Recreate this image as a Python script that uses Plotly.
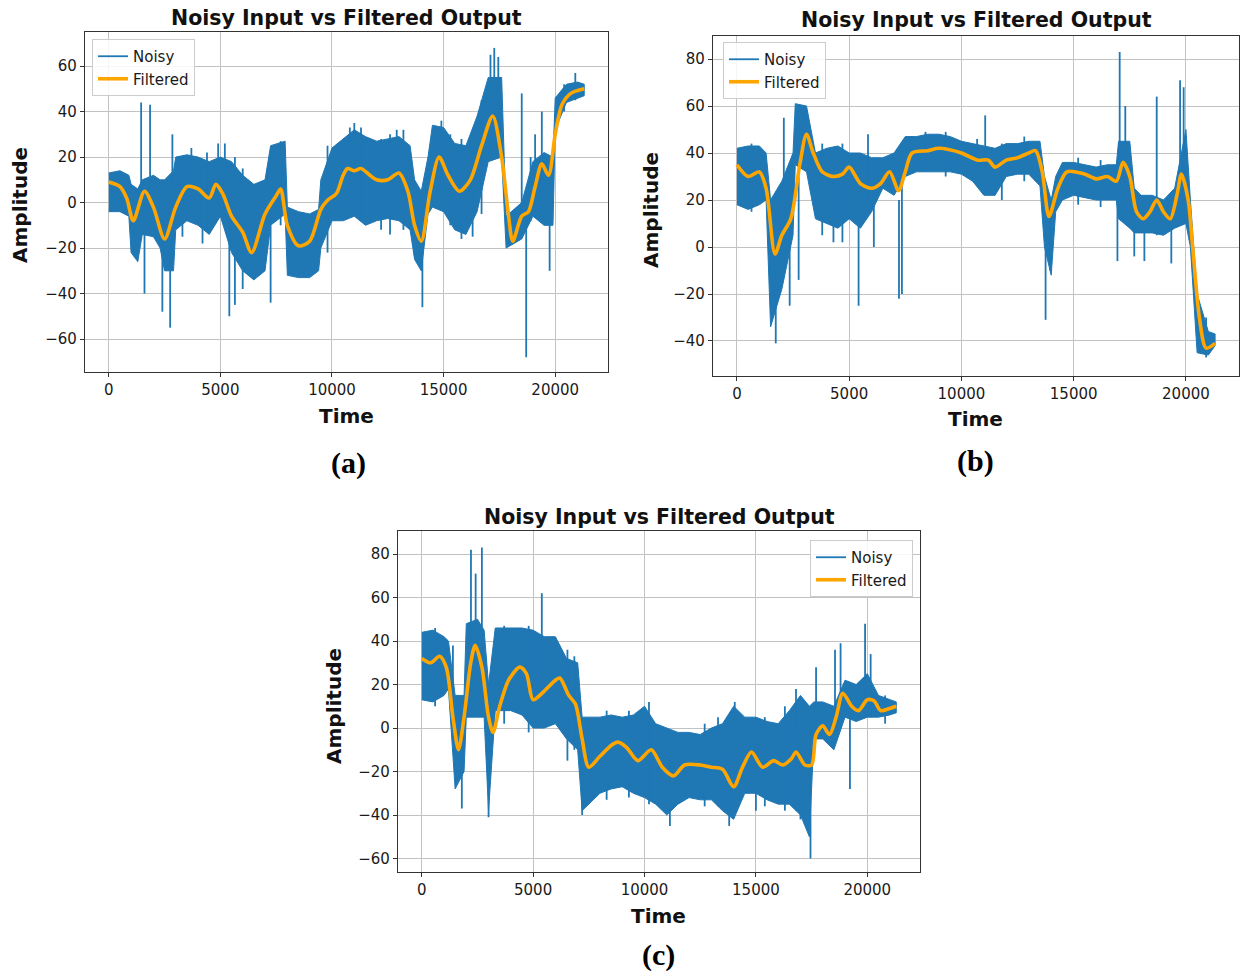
import plotly.graph_objects as go

# ---------------- data ----------------
X_TICKS = [0, 5000, 10000, 15000, 20000]
X_TICK_TEXT = ["0", "5000", "10000", "15000", "20000"]

# Panel (a): noisy band envelope (time, upper, lower), spikes, filtered curve
A_TIME = [0, 500, 900, 1000, 1300, 1500, 2000, 2300, 2500, 2900,
          3000, 3500, 4000, 4500, 5000, 5500, 6000, 6500, 7000, 7250,
          7900, 8000, 8500, 9000, 9400, 9500, 10000, 10500, 11000, 11500,
          12000, 12500, 13000, 13500, 13700, 14000, 14300, 14500, 15000, 15500,
          16000, 16500, 17000, 17600, 17800, 18500, 19000, 19500, 19900, 20000,
          20500, 21000, 21300]
A_UPPER = [13, 14, 12, 8, 6, 10, 12, 10, 10, 14,
           20, 21, 20, 18, 20, 18, 12, 8, 10, 25,
           27, -2, -4, -5, -3, 10, 24, 28, 32, 29,
           27, 28, 29, 25, 10, 5, 20, 34, 33, 26,
           25, 38, 55, 55, -6, 0, 18, 22, 20, 46,
           52, 53, 52]
A_LOWER = [-4, -4, -6, -22, -26, -14, -15, -20, -30, -30,
           -12, -8, -10, -14, -6, -22, -30, -34, -30, -10,
           -5, -32, -33, -33, -30, -20, -8, -8, -6, -10,
           -8, -7, -8, -12, -25, -30, -5, -2, -4, -12,
           -14, -4, 18, 20, -20, -16, -6, -10, -10, 32,
           44, 46, 47]
A_SPIKE_T = [1450, 1600, 1850, 2400, 2750, 2850, 3300, 3700, 4200, 4400, 4900, 5200, 5400, 5650, 6000,
             7250, 7700, 9800, 10800, 11000, 11300, 12200, 12600, 12900, 13200, 14050, 14900, 15300,
             15800, 16300, 16700, 17100, 17270, 17450, 18500, 18700, 18900, 19100, 19400, 19750,
             20400, 20900]
A_SPIKE_LO = [0, -40, -10, -48, -55, -10, -15, 0, -18, -12, -5, -10, -50, -45, -38,
              -44, -10, -22, 0, 0, -8, -12, -14, -2, -12, -46, 5, -10,
              -16, -15, -5, 30, 30, 25, -10, -68, -8, 0, 0, -30,
              40, 45]
A_SPIKE_HI = [44, 5, 43, 5, 0, 30, 20, 24, 15, 22, 26, 26, 0, 20, 15,
              -10, 27, 25, 33, 35, 33, 28, 30, 32, 32, -20, 36, 30,
              28, 22, 45, 65, 68, 64, 48, 0, 20, 30, 40, 10,
              52, 57]
A_FILT_T = [0, 500, 800, 1100, 1600, 2000, 2500, 3000, 3500, 4000,
            4500, 4800, 5100, 5500, 6000, 6400, 7000, 7500, 7700, 8000,
            8500, 9000, 9500, 9800, 10200, 10500, 10700, 11000, 11300, 11700,
            12000, 12500, 13000, 13400, 13700, 14000, 14400, 14800, 15200, 15700,
            16200, 16700, 17200, 17600, 17900, 18100, 18500, 18800, 19100, 19400,
            19700, 20000, 20300, 20700, 21300]
A_FILT_Y = [9, 7, 2, -8, 5, -2, -16, -2, 7, 6,
            2, 8, 4, -6, -13, -22, -5, 3, 6, -10,
            -19, -17, -3, 1, 4, 12, 15, 14, 15, 12,
            10, 10, 13, 5, -10, -17, 5, 20, 12, 5,
            10, 25, 38, 20, -5, -17, -6, -4, 7, 17,
            12, 30, 43, 48, 50]

# Panel (b)
B_TIME = [0, 500, 1000, 1300, 1500, 2000, 2500, 2600, 3100, 3500,
          4000, 4500, 5000, 5500, 6000, 6500, 7000, 7500, 8000, 8500,
          9000, 9500, 10000, 10500, 11000, 11500, 12000, 12500, 13000, 13500,
          13700, 14000, 14200, 14500, 15000, 15500, 16000, 16500, 16900, 17000,
          17500, 17700, 18000, 18500, 19000, 19500, 20000, 20200, 20500, 21000,
          21300]
B_UPPER = [42, 43, 43, 40, 20, 28, 40, 61, 60, 40,
           42, 43, 40, 40, 38, 38, 40, 47, 47, 48,
           48, 47, 45, 44, 43, 42, 44, 44, 45, 45,
           30, 20, 30, 36, 36, 35, 34, 35, 35, 45,
           45, 25, 22, 22, 20, 25, 50, 20, -20, -36,
           -37]
B_LOWER = [18, 16, 18, 20, -34, -18, 5, 35, 32, 12,
           10, 8, 12, 8, 15, 25, 22, 30, 32, 32,
           32, 32, 31, 28, 22, 22, 30, 31, 31, 26,
           0, -12, 15, 20, 22, 21, 20, 20, 20, 12,
           8, 6, 6, 6, 5, 8, 10, 0, -45, -46,
           -42]
B_SPIKE_T = [650, 1730, 2090, 2350, 2750, 3800, 4300, 4700, 5420, 5840, 6100, 7220, 7350,
             8400, 9300, 10700, 11060, 11800, 12800, 13750, 13950, 15200, 16200, 16950,
             17050, 17300, 17700, 18150, 18700, 19350, 19740, 19900, 20900]
B_SPIKE_LO = [15, -41, 10, -25, -14, 5, 2, 2, -25, 20, 0, -22, -20,
              32, 30, 26, 35, 20, 28, -31, -10, 18, 17, -6,
              20, 10, -4, -6, 5, -7, 20, 10, -47]
B_SPIKE_HI = [44, 0, 55, 10, 30, 44, 30, 44, 20, 48, 25, 20, 30,
              49, 49, 46, 56, 44, 47, 0, 20, 38, 37, 20,
              83, 60, 20, 15, 64, 15, 71, 68, -30]
B_FILT_T = [0, 500, 1000, 1300, 1700, 2000, 2400, 2800, 3100, 3400,
            3800, 4300, 4700, 5000, 5500, 6000, 6400, 6800, 7200, 7500,
            7800, 8500, 9000, 10000, 10700, 11200, 11500, 12000, 12500, 13000,
            13300, 13600, 13900, 14300, 14700, 15500, 16000, 16500, 16900, 17200,
            17500, 17800, 18100, 18400, 18700, 19000, 19300, 19600, 19800, 20100,
            20300, 20600, 20900, 21300]
B_FILT_Y = [35, 30, 32, 25, -3, 5, 12, 35, 48, 40,
            32, 30, 31, 34, 27, 25, 27, 32, 24, 32,
            40, 41, 42, 40, 37, 37, 34, 37, 38, 40,
            41, 32, 13, 25, 32, 31, 29, 30, 28, 36,
            30, 15, 12, 15, 20, 15, 12, 22, 31, 20,
            0, -30, -43, -41]

# Panel (c)
C_TIME = [0, 500, 1000, 1200, 1500, 1900, 2000, 2500, 2800, 3000,
          3300, 3500, 4000, 4500, 5000, 5500, 6000, 6500, 7000, 7200,
          7500, 8000, 8500, 9000, 9500, 10000, 10500, 11000, 11500, 12000,
          12500, 13000, 13500, 14000, 14500, 15000, 15500, 16000, 16500, 17000,
          17400, 17600, 18000, 18500, 19000, 19500, 20000, 20500, 21000, 21300]
C_UPPER = [44, 45, 42, 40, 15, 15, 48, 50, 45, 20,
           46, 46, 46, 46, 45, 42, 42, 32, 30, 5,
           5, 5, 6, 5, 6, 10, 2, 0, -2, -2,
           -3, 0, 2, 10, 5, 5, 3, 2, 8, 15,
           10, 12, 12, 10, 22, 20, 25, 15, 13, 12]
C_LOWER = [13, 12, 15, 18, -28, -20, 5, 5, 5, -38,
           8, 8, 8, 6, 0, 0, 2, -5, -10, -38,
           -35, -30, -28, -27, -30, -32, -35, -40, -35, -32,
           -33, -33, -38, -42, -30, -30, -33, -35, -35, -40,
           -50, -5, -5, -10, 5, 3, 5, 5, 6, 7]
C_SPIKE_T = [600, 1400, 1800, 2210, 2420, 2700, 3000, 3700, 4800, 5390, 6540, 6850, 7200,
             8300, 9300, 10200, 11140, 12700, 13300, 13800, 14050, 15000, 15400, 16300,
             16800, 17000, 17450, 17700, 18550, 18800, 19220, 19900, 20150, 20800]
C_SPIKE_LO = [10, 15, -37, 20, 20, 10, -41, 2, -2, 10, -15, -10, -40,
              -33, -32, -35, -45, -36, -36, -45, -20, -38, -36, -38,
              -38, -42, -60, 0, 5, 5, -28, 5, 5, 2]
C_SPIKE_HI = [46, 38, 10, 82, 71, 83, 0, 47, 47, 62, 36, 33, 0,
              8, 8, 12, -10, 2, 5, -10, 12, -10, 5, 10,
              18, 0, 10, 28, 36, 39, 10, 48, 34, 15]
C_FILT_T = [0, 400, 800, 1100, 1400, 1650, 1900, 2200, 2400, 2700,
            3000, 3200, 3500, 3900, 4400, 4700, 5000, 5500, 6000, 6200,
            6600, 6900, 7200, 7500, 8000, 8500, 8800, 9200, 9700, 10300,
            10800, 11300, 11800, 12500, 13000, 13500, 14000, 14400, 14800, 15300,
            15800, 16200, 16600, 16800, 17200, 17500, 17700, 18000, 18300, 18600,
            18900, 19300, 19600, 20000, 20300, 20600, 21000, 21300]
C_FILT_Y = [32, 30, 33, 28, 5, -10, 5, 30, 38, 28,
            5, -2, 10, 22, 28, 25, 13, 17, 22, 23,
            15, 11, -5, -18, -13, -8, -6.5, -9, -15, -10,
            -18, -22, -17, -17, -18, -19, -27, -18, -11, -18,
            -15, -17, -14, -11, -17, -17, -3, 1, -3, 5,
            16, 10, 8, 13, 12.5, 8, 9, 10]

TITLE = "Noisy Input vs Filtered Output"
X_LABEL = "Time"
Y_LABEL = "Amplitude"
PANEL_LABELS = ["(a)", "(b)", "(c)"]

# ---------------- styling / layout ----------------
BLUE = "#1f77b4"
ORANGE = "#ffa500"
W, H = 1241, 971


def px(x):
    return x / W


def py(y):
    return 1 - y / H


panels = [
    dict(t=A_TIME, up=A_UPPER, lo=A_LOWER, st=A_SPIKE_T, slo=A_SPIKE_LO, shi=A_SPIKE_HI,
         ft=A_FILT_T, fy=A_FILT_Y, box=(85, 608, 32, 372), yr=[-74.5, 75.0],
         yt=list(range(-60, 61, 20)),
         legend=dict(x=px(92), y=py(39), xanchor="left", yanchor="top"),
         title=(346.5, 17.5), xl=(346, 416), yl=(20, 205), pl=(348, 463)),
    dict(t=B_TIME, up=B_UPPER, lo=B_LOWER, st=B_SPIKE_T, slo=B_SPIKE_LO, shi=B_SPIKE_HI,
         ft=B_FILT_T, fy=B_FILT_Y, box=(713, 1239, 36, 376), yr=[-54.9, 89.8],
         yt=list(range(-40, 81, 20)),
         legend=dict(x=px(723), y=py(42), xanchor="left", yanchor="top"),
         title=(976, 20.5), xl=(975, 419), yl=(651, 210), pl=(975, 461)),
    dict(t=C_TIME, up=C_UPPER, lo=C_LOWER, st=C_SPIKE_T, slo=C_SPIKE_LO, shi=C_SPIKE_HI,
         ft=C_FILT_T, fy=C_FILT_Y, box=(398, 920, 531, 872), yr=[-66.2, 90.6],
         yt=list(range(-60, 81, 20)),
         legend=dict(x=px(913), y=py(540), xanchor="right", yanchor="top"),
         title=(659, 517), xl=(658, 916), yl=(334, 706), pl=(658, 955)),
]

fig = go.Figure()
layout = dict(width=W, height=H, autosize=False,
              margin=dict(l=0, r=0, t=0, b=0),
              paper_bgcolor="white", plot_bgcolor="white",
              showlegend=True)
annotations = []

tick_font = dict(family="DejaVu Sans", size=15, color="#1a1a1a")
axis_common = dict(showline=True, mirror=True, linecolor="#333333", linewidth=1.3,
                   showgrid=True, gridcolor="#c2c2c2", gridwidth=1.3,
                   ticks="outside", ticklen=4, tickwidth=1.2, tickcolor="#333333",
                   tickfont=tick_font, zeroline=False, fixedrange=True)
bold_font = dict(family="DejaVu Sans", size=20, color="#111111")

for i, p in enumerate(panels):
    n = "" if i == 0 else str(i + 1)
    xa, ya = "x" + n, "y" + n
    leg = "legend" + n
    x0, x1, y0, y1 = p["box"]

    # noisy band
    fig.add_trace(go.Scatter(
        x=p["t"] + p["t"][::-1], y=p["up"] + p["lo"][::-1],
        mode="lines", fill="toself", fillcolor=BLUE,
        line=dict(color=BLUE, width=1), showlegend=False, hoverinfo="skip",
        xaxis=xa, yaxis=ya, legend=leg, legendgroup="noisy" + n))
    # noisy spikes
    sx, sy = [], []
    for t, lo, hi in zip(p["st"], p["slo"], p["shi"]):
        sx += [t, t, None]
        sy += [lo, hi, None]
    fig.add_trace(go.Scatter(
        x=sx, y=sy, mode="lines", line=dict(color=BLUE, width=1.8),
        name="Noisy", xaxis=xa, yaxis=ya, legend=leg, legendgroup="noisy" + n))
    # filtered
    fig.add_trace(go.Scatter(
        x=p["ft"], y=p["fy"], mode="lines",
        line=dict(color=ORANGE, width=3.6, shape="spline", smoothing=0.8),
        name="Filtered", xaxis=xa, yaxis=ya, legend=leg))

    layout["xaxis" + n] = dict(axis_common, domain=[px(x0), px(x1)],
                               range=[-1065, 22365], tickvals=X_TICKS,
                               ticktext=X_TICK_TEXT, anchor=ya)
    layout["yaxis" + n] = dict(axis_common, domain=[py(y1), py(y0)],
                               range=p["yr"], tickvals=p["yt"], anchor=xa)
    layout[leg] = dict(p["legend"], bgcolor="rgba(255,255,255,0.85)",
                       bordercolor="#cccccc", borderwidth=1,
                       font=dict(family="DejaVu Sans", size=15, color="#1a1a1a"),
                       tracegroupgap=0, itemwidth=30)

    annotations.append(dict(text="<b>%s</b>" % TITLE, x=px(p["title"][0]), y=py(p["title"][1]),
                            xref="paper", yref="paper", showarrow=False,
                            xanchor="center", yanchor="middle",
                            font=dict(bold_font, size=20.5)))
    annotations.append(dict(text="<b>%s</b>" % X_LABEL, x=px(p["xl"][0]), y=py(p["xl"][1]),
                            xref="paper", yref="paper", showarrow=False,
                            xanchor="center", yanchor="middle", font=bold_font))
    annotations.append(dict(text="<b>%s</b>" % Y_LABEL, x=px(p["yl"][0]), y=py(p["yl"][1]),
                            xref="paper", yref="paper", showarrow=False, textangle=-90,
                            xanchor="center", yanchor="middle", font=bold_font))
    annotations.append(dict(text="<b>%s</b>" % PANEL_LABELS[i], x=px(p["pl"][0]), y=py(p["pl"][1]),
                            xref="paper", yref="paper", showarrow=False,
                            xanchor="center", yanchor="middle",
                            font=dict(family="Liberation Serif", size=30, color="#000000")))

layout["annotations"] = annotations
fig.update_layout(**layout)
# remove the browser's default page margin so the figure sits at the page origin
fig.write_html("out.html",
               config={"displayModeBar": False},
               post_script="document.body.style.margin='0px';document.body.style.overflow='hidden';")
